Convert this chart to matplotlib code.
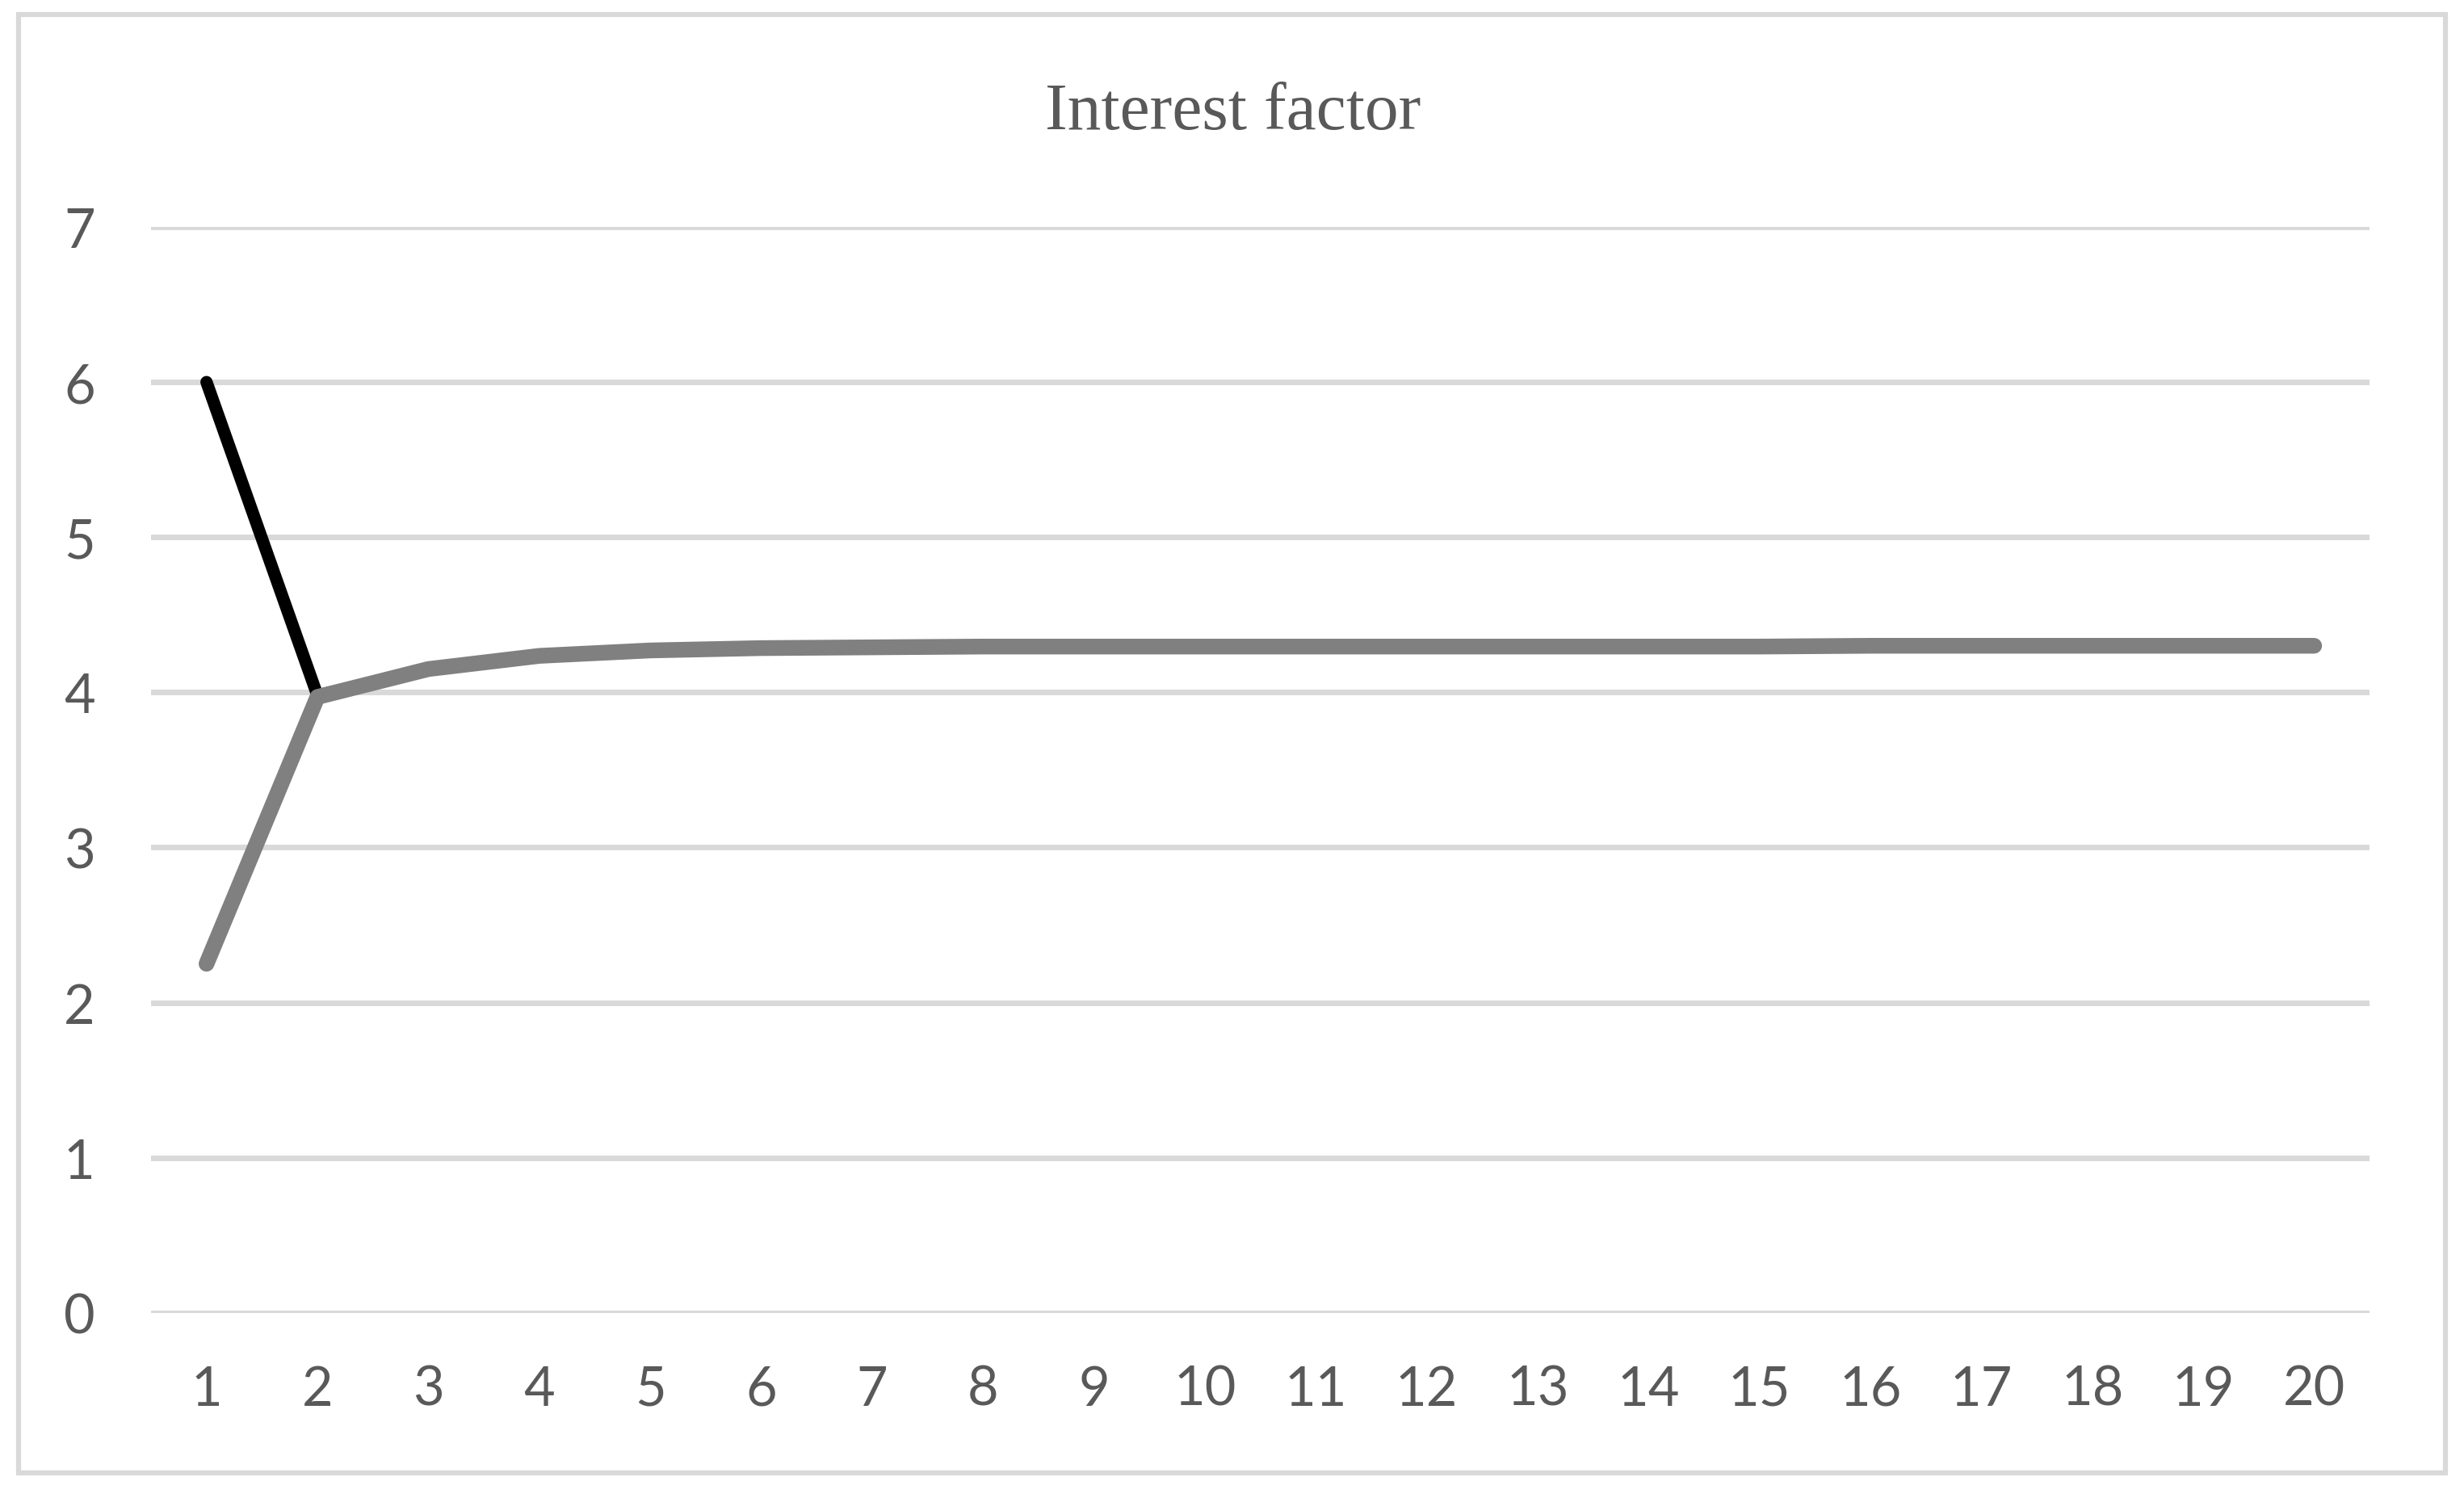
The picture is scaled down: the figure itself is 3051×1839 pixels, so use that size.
import matplotlib.pyplot as plt
from matplotlib.patches import Rectangle

# category axis 1..20
periods = list(range(1, 21))

# black series: only visible from period 1 to 2, afterwards hidden under the grey one
factor_upper = [6.0, 3.98, 4.15, 4.235, 4.27, 4.285, 4.29, 4.295, 4.295, 4.295,
                4.295, 4.295, 4.295, 4.295, 4.295, 4.3, 4.3, 4.3, 4.3, 4.3]
factor_lower = [2.25, 3.97, 4.15, 4.235, 4.27, 4.285, 4.29, 4.295, 4.295, 4.295,
                4.295, 4.295, 4.295, 4.295, 4.295, 4.3, 4.3, 4.3, 4.3, 4.3]

y_ticks = [0, 1, 2, 3, 4, 5, 6, 7]

TEXT = "#595959"
GRID = "#d9d9d9"

fig = plt.figure(figsize=(30.51, 18.40), dpi=100)
ax = fig.add_axes([0.0613, 0.1159, 0.9004, 0.7308])

ax.plot(periods, factor_upper, color="black", lw=11, solid_capstyle="round",
        solid_joinstyle="round", zorder=3)
ax.plot(periods, factor_lower, color="#808080", lw=14, solid_capstyle="round",
        solid_joinstyle="round", zorder=4)

ax.set_xlim(0.5, 20.5)
ax.set_ylim(0, 7)
ax.set_xticks(periods, labels=[str(p) for p in periods])
ax.set_yticks(y_ticks, labels=[str(v) for v in y_ticks])
ax.grid(axis="y", color=GRID, lw=5, zorder=1)
ax.set_axisbelow(True)
for side in ["top", "right", "left", "bottom"]:
    ax.spines[side].set_visible(False)
ax.tick_params(axis="both", length=0, colors=TEXT, labelsize=48)
ax.tick_params(axis="y", pad=50)
ax.tick_params(axis="x", pad=46)
for lab in ax.get_xticklabels() + ax.get_yticklabels():
    lab.set_fontfamily("Lato")

fig.text(0.5005, 0.913, "Interest factor", ha="center", va="baseline",
         fontsize=60, color=TEXT, fontfamily="Liberation Serif")

# chart area border
fig.patches.append(Rectangle((23 / 3051, 15 / 1840), 3005 / 3051, 1806 / 1840,
                             transform=fig.transFigure, fill=False,
                             edgecolor=GRID, lw=4.5))

fig.savefig("out.png", dpi=100)
